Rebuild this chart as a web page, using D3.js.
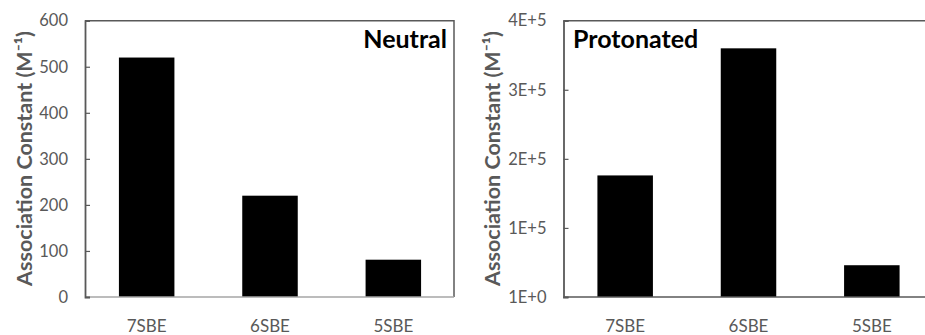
<!DOCTYPE html>
<html><head><meta charset="utf-8">
<script src="https://cdn.jsdelivr.net/npm/d3@7"></script>
<style>body{margin:0;background:#fff}svg{display:block}</style>
</head><body>
<svg id="c" width="925" height="335"></svg>
<script>
const categories = ["7SBE", "6SBE", "5SBE"];
const neutralValues = [520, 220, 81];
const protonatedValues = [176000, 360000, 46000];
const neutralTicks = [0, 100, 200, 300, 400, 500, 600];
const protonatedTicks = [0, 100000, 200000, 300000, 400000];
const protonatedTickLabels = ["1E+0", "1E+5", "2E+5", "3E+5", "4E+5"];
const yTitle = "Association Constant (M\u207B\u00B9)";

const svg = d3.select("#c");
const FONT = "Lato, 'Open Sans', sans-serif";

function panel(o) {
  const x = d3.scaleBand().domain(categories).range([o.left, o.left + 370]).paddingInner(0.55).paddingOuter(0.275);
  const y = d3.scaleLinear().domain([0, o.max]).range([297, 20.7]);
  const g = svg.append("g");
  g.selectAll("rect.bar").data(o.values).enter().append("rect")
    .attr("x", (d, i) => x(categories[i]))
    .attr("width", x.bandwidth())
    .attr("y", d => y(d))
    .attr("height", d => y(0) - y(d))
    .attr("fill", "#000");
  g.append("path")
    .attr("d", `M${o.left},${y(o.max)}H${o.left + 369}V${y(0)}`)
    .attr("fill", "none").attr("stroke", "#595959").attr("stroke-width", 1.5);
  g.append("line").attr("x1", o.left).attr("x2", o.left + 369).attr("y1", y(0)).attr("y2", y(0))
    .attr("stroke", o.bottomColor).attr("stroke-width", 1.5);
  const ax = d3.axisLeft(y).tickValues(o.ticks).tickSize(-5).tickPadding(17)
    .tickFormat((d, i) => o.tickLabels ? o.tickLabels[i] : d);
  const ag = g.append("g").attr("transform", `translate(${o.left},0)`).call(ax);
  ag.select(".domain").attr("stroke", "#595959").attr("stroke-width", 1.8);
  ag.selectAll(".tick line").attr("stroke", "#595959").attr("stroke-width", 1.2);
  ag.selectAll(".tick text").attr("fill", "#595959").style("font-family", FONT).style("font-size", "16.5px");
  g.selectAll("text.cat").data(categories).enter().append("text")
    .attr("x", d => x(d) + x.bandwidth() / 2).attr("y", 332)
    .attr("text-anchor", "middle").attr("fill", "#595959")
    .style("font-family", FONT).style("font-size", "17px").text(d => d);
  g.append("text").attr("transform", `translate(${o.titleX},158.5) rotate(-90)`)
    .attr("text-anchor", "middle").attr("dominant-baseline", "central")
    .attr("fill", "#595959").style("font-family", FONT).style("font-weight", "bold").style("font-size", "21.5px")
    .text(yTitle);
  g.append("text").attr("x", o.labelX).attr("y", 47.5).attr("text-anchor", o.labelAnchor)
    .attr("fill", "#000").style("font-family", FONT).style("font-weight", "bold").style("font-size", "25px")
    .text(o.label);
}

panel({left: 85, max: 600, values: neutralValues, ticks: neutralTicks, tickLabels: null,
  titleX: 24, label: "Neutral", labelX: 447, labelAnchor: "end", bottomColor: "#a6a6a6"});
panel({left: 563.5, max: 400000, values: protonatedValues, ticks: protonatedTicks, tickLabels: protonatedTickLabels,
  titleX: 492, label: "Protonated", labelX: 573, labelAnchor: "start", bottomColor: "#595959"});
</script>
</body></html>
